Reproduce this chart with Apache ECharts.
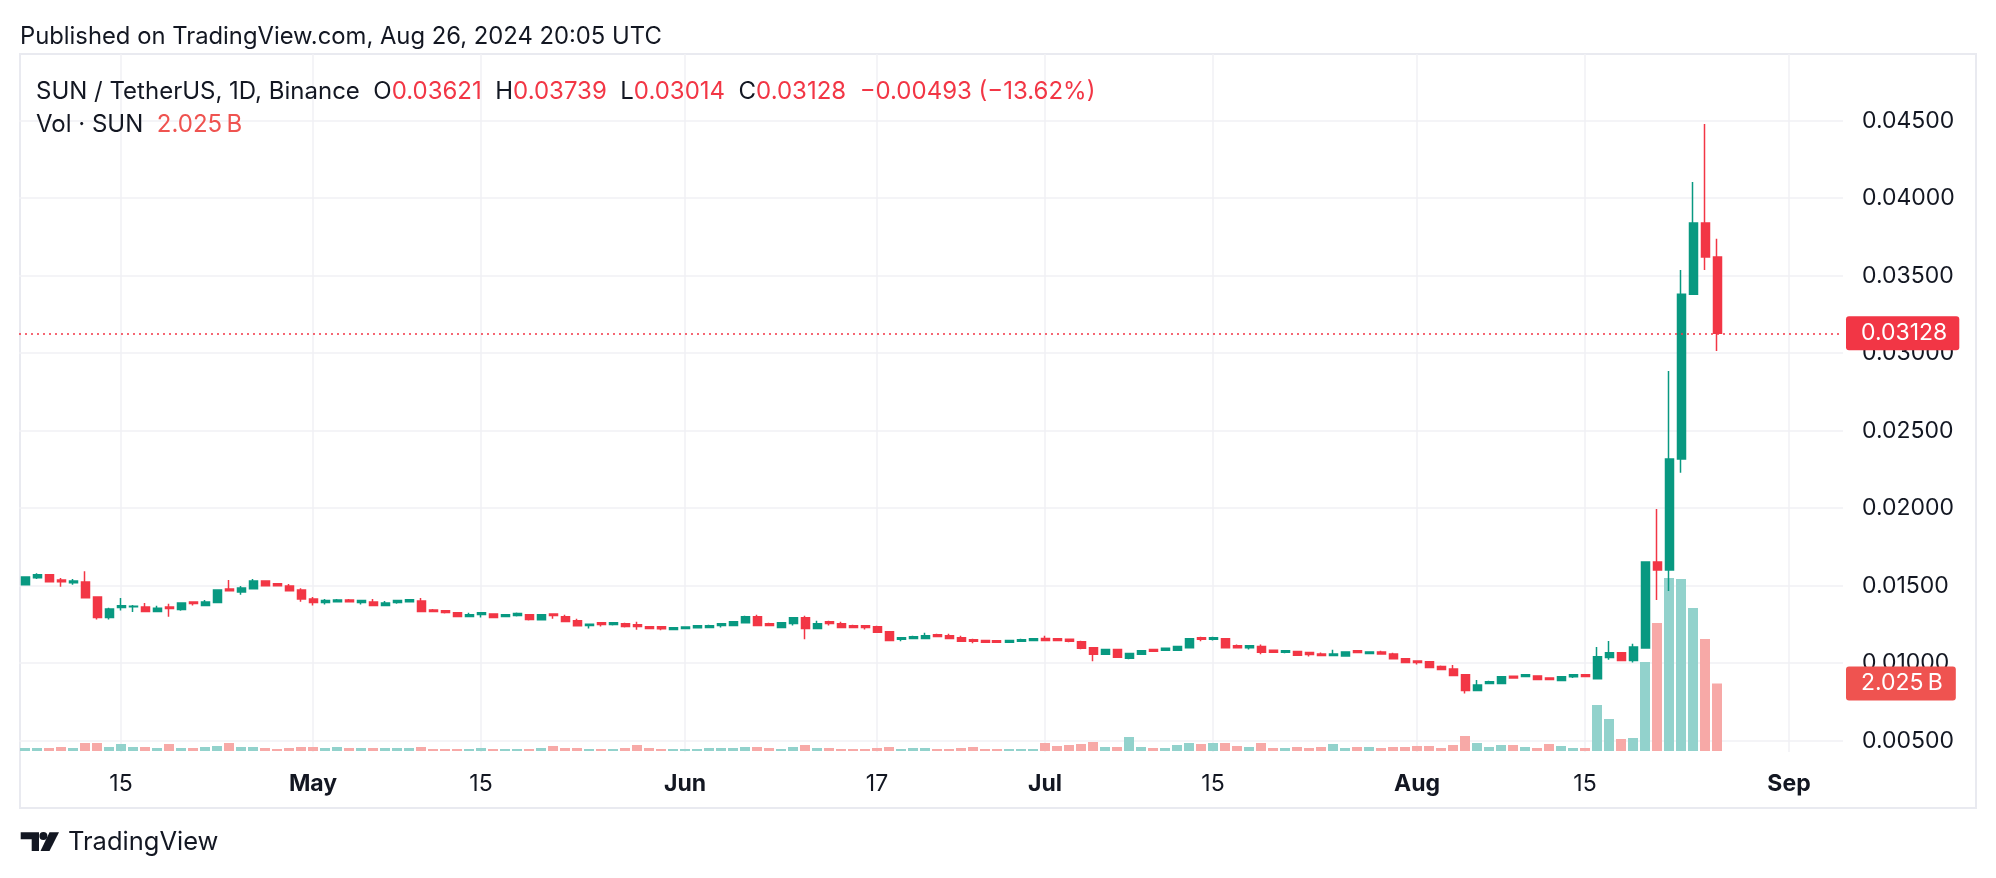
<!DOCTYPE html>
<html>
<head>
<meta charset="utf-8">
<script src="https://cdn.jsdelivr.net/npm/echarts/dist/echarts.min.js"></script>
<style>
html,body{margin:0;padding:0;background:#fff;}
#chart{width:1996px;height:878px;}
</style>
</head>
<body>
<div id="chart"></div>
<script>
// ---- data ----
const firstDate = '2024-04-07';
const totalDays = 152; // Apr 7 .. Sep 5 (empty future space on the right)

// rows: [open, high, low, close], one per day starting Apr 7, 2024
const candles = [
[0.01506,0.01560,0.01504,0.01556],[0.01551,0.01581,0.01543,0.01571],[0.01571,0.01575,0.01526,0.01526],[0.01536,0.01549,0.01494,0.01526],
[0.01519,0.01543,0.01506,0.01530],[0.01524,0.01594,0.01423,0.01423],[0.01427,0.01432,0.01282,0.01295],[0.01295,0.01357,0.01282,0.01350],
[0.01359,0.01421,0.01340,0.01370],[0.01364,0.01376,0.01331,0.01368],[0.01363,0.01389,0.01333,0.01333],[0.01333,0.01370,0.01333,0.01355],
[0.01363,0.01383,0.01299,0.01353],[0.01346,0.01389,0.01338,0.01389],[0.01395,0.01395,0.01372,0.01385],[0.01372,0.01408,0.01372,0.01395],
[0.01391,0.01472,0.01391,0.01472],[0.01479,0.01536,0.01468,0.01468],[0.01459,0.01498,0.01442,0.01485],[0.01481,0.01543,0.01481,0.01530],
[0.01530,0.01530,0.01500,0.01500],[0.01513,0.01517,0.01500,0.01500],[0.01498,0.01511,0.01468,0.01468],[0.01472,0.01483,0.01397,0.01415],
[0.01415,0.01427,0.01372,0.01391],[0.01391,0.01415,0.01378,0.01404],[0.01397,0.01415,0.01391,0.01408],[0.01408,0.01415,0.01397,0.01397],
[0.01391,0.01408,0.01378,0.01404],[0.01395,0.01415,0.01372,0.01372],[0.01372,0.01402,0.01372,0.01389],[0.01391,0.01408,0.01383,0.01404],
[0.01397,0.01415,0.01397,0.01410],[0.01402,0.01421,0.01333,0.01333],[0.01344,0.01350,0.01333,0.01333],[0.01338,0.01344,0.01321,0.01327],
[0.01325,0.01331,0.01301,0.01301],[0.01301,0.01325,0.01301,0.01312],[0.01314,0.01325,0.01295,0.01325],[0.01318,0.01318,0.01295,0.01295],
[0.01301,0.01318,0.01301,0.01312],[0.01308,0.01327,0.01301,0.01321],[0.01312,0.01312,0.01276,0.01282],[0.01280,0.01312,0.01276,0.01312],
[0.01318,0.01318,0.01286,0.01308],[0.01299,0.01312,0.01269,0.01269],[0.01274,0.01286,0.01237,0.01241],[0.01244,0.01252,0.01224,0.01252],
[0.01261,0.01261,0.01237,0.01250],[0.01250,0.01261,0.01244,0.01261],[0.01254,0.01261,0.01231,0.01237],[0.01248,0.01267,0.01216,0.01237],
[0.01235,0.01235,0.01224,0.01224],[0.01235,0.01235,0.01212,0.01222],[0.01218,0.01233,0.01218,0.01229],[0.01224,0.01233,0.01220,0.01233],
[0.01229,0.01241,0.01224,0.01241],[0.01231,0.01248,0.01231,0.01241],[0.01244,0.01254,0.01231,0.01254],[0.01244,0.01267,0.01244,0.01267],
[0.01261,0.01306,0.01256,0.01299],[0.01299,0.01312,0.01244,0.01244],[0.01254,0.01261,0.01244,0.01244],[0.01231,0.01261,0.01231,0.01261],
[0.01256,0.01293,0.01244,0.01293],[0.01293,0.01306,0.01154,0.01224],[0.01224,0.01274,0.01224,0.01254],[0.01267,0.01274,0.01244,0.01256],
[0.01254,0.01267,0.01231,0.01231],[0.01241,0.01248,0.01231,0.01231],[0.01241,0.01241,0.01218,0.01231],[0.01235,0.01241,0.01199,0.01199],
[0.01203,0.01203,0.01141,0.01147],[0.01154,0.01165,0.01141,0.01165],[0.01160,0.01177,0.01160,0.01171],[0.01160,0.01197,0.01160,0.01177],
[0.01184,0.01190,0.01173,0.01173],[0.01177,0.01190,0.01160,0.01160],[0.01165,0.01177,0.01141,0.01141],[0.01152,0.01158,0.01128,0.01141],
[0.01147,0.01152,0.01135,0.01135],[0.01145,0.01145,0.01135,0.01135],[0.01135,0.01152,0.01135,0.01147],[0.01141,0.01158,0.01141,0.01152],
[0.01147,0.01158,0.01141,0.01158],[0.01160,0.01177,0.01147,0.01147],[0.01158,0.01158,0.01141,0.01147],[0.01154,0.01158,0.01135,0.01141],
[0.01139,0.01145,0.01090,0.01096],[0.01100,0.01100,0.01013,0.01058],[0.01058,0.01088,0.01058,0.01088],[0.01088,0.01088,0.01038,0.01038],
[0.01032,0.01062,0.01026,0.01062],[0.01058,0.01081,0.01058,0.01081],[0.01088,0.01088,0.01077,0.01077],[0.01083,0.01100,0.01083,0.01096],
[0.01083,0.01107,0.01083,0.01107],[0.01100,0.01158,0.01100,0.01158],[0.01165,0.01171,0.01141,0.01154],[0.01154,0.01171,0.01147,0.01165],
[0.01158,0.01158,0.01100,0.01100],[0.01113,0.01120,0.01100,0.01100],[0.01100,0.01113,0.01088,0.01113],[0.01107,0.01120,0.01058,0.01070],
[0.01083,0.01083,0.01070,0.01070],[0.01070,0.01081,0.01064,0.01081],[0.01075,0.01081,0.01051,0.01051],[0.01069,0.01069,0.01043,0.01056],
[0.01060,0.01069,0.01050,0.01050],[0.01050,0.01086,0.01050,0.01060],[0.01047,0.01073,0.01047,0.01073],[0.01080,0.01080,0.01069,0.01069],
[0.01062,0.01073,0.01062,0.01073],[0.01073,0.01080,0.01056,0.01060],[0.01060,0.01067,0.01028,0.01028],[0.01028,0.01034,0.01004,0.01004],
[0.01015,0.01015,0.00991,0.01004],[0.01009,0.01009,0.00972,0.00972],[0.00978,0.00985,0.00959,0.00959],[0.00963,0.00989,0.00920,0.00920],
[0.00925,0.00925,0.00804,0.00824],[0.00824,0.00892,0.00824,0.00860],[0.00869,0.00886,0.00869,0.00880],[0.00869,0.00912,0.00869,0.00912],
[0.00916,0.00916,0.00899,0.00905],[0.00914,0.00925,0.00914,0.00925],[0.00918,0.00918,0.00895,0.00895],[0.00905,0.00905,0.00895,0.00895],
[0.00888,0.00912,0.00888,0.00912],[0.00912,0.00925,0.00905,0.00925],[0.00925,0.00931,0.00914,0.00914],[0.00899,0.01105,0.00899,0.01041],
[0.01037,0.01144,0.01022,0.01067],[0.01067,0.01067,0.01017,0.01017],[0.01017,0.01125,0.01004,0.01105],[0.01098,0.01658,0.01098,0.01653],
[0.01653,0.01995,0.01408,0.01601],[0.01601,0.02885,0.01466,0.02317],[0.02317,0.03537,0.02229,0.03380],[0.03380,0.04105,0.03376,0.03840],
[0.03840,0.04479,0.03537,0.03621],[0.03621,0.03739,0.03014,0.03128]
];

// daily volume, billions of SUN
const volumes = [
0.09,0.09,0.09,0.12,0.09,0.24,0.24,0.12,0.21,0.12,0.12,0.09,0.21,0.09,0.09,0.12,0.15,0.24,0.12,0.12,0.09,0.06,0.09,0.12,
0.12,0.09,0.12,0.09,0.09,0.09,0.09,0.09,0.09,0.12,0.06,0.06,0.06,0.06,0.09,0.06,0.06,0.06,0.06,0.09,0.15,0.09,0.09,0.06,
0.06,0.06,0.09,0.18,0.09,0.06,0.06,0.06,
0.06,0.09,0.09,0.09,0.12,0.12,0.09,0.06,0.12,0.18,0.09,0.09,0.06,0.06,0.06,0.09,0.12,0.06,0.09,0.09,0.06,0.06,0.09,0.12,
0.06,0.06,0.06,0.06,0.06,
0.24,0.15,0.18,0.21,0.27,0.12,0.12,0.42,0.12,0.09,0.09,0.18,0.24,0.21,0.24,0.24,0.15,0.12,0.24,0.09,0.09,0.12,0.09,0.12,
0.21,0.09,0.12,0.12,0.09,0.12,0.12,
0.15,0.15,0.09,0.18,0.45,0.24,0.12,0.18,0.18,0.12,0.09,0.21,0.15,0.09,0.09,1.38,0.96,0.36,0.39,2.67,3.84,5.19,5.16,4.29,
3.36,2.025
];

const tickDates  = ['2024-04-15','2024-05-01','2024-05-15','2024-06-01','2024-06-17','2024-07-01','2024-07-15','2024-08-01','2024-08-15','2024-09-01'];
const tickLabels = ['15','May','15','Jun','17','Jul','15','Aug','15','Sep'];

const priceMin = 0, priceMax = 0.05, priceStep = 0.005;
const volMax = 9; // billions

// ---- build ----
const dates = [];
{
  const d0 = new Date(firstDate + 'T00:00:00Z');
  for (let i = 0; i < totalDays; i++) {
    const d = new Date(d0.getTime() + i * 86400000);
    dates.push(d.toISOString().slice(0, 10));
  }
}
const UP = '#089981', DOWN = '#F23645';
const VUP = '#92D2CC', VDOWN = '#F7A9A7';
const TXT = '#131722', GRID = '#F0F1F4';
const FONT = 'Inter, "Noto Sans", sans-serif';

const kData = candles.map(r => [r[0], r[3], r[2], r[1]]);
const last = candles[candles.length - 1];
const prevClose = candles[candles.length - 2][3];
const lastVol = volumes[volumes.length - 1];
const chg = last[3] - prevClose;
const pct = chg / prevClose * 100;
const minus = s => s.replace('-', '\u2212');
const f5 = v => v.toFixed(5);

const isTick = (idx, val) => tickDates.indexOf(val) >= 0;

const chart = echarts.init(document.getElementById('chart'), null, {renderer: 'canvas'});

const option = {
  animation: false,
  backgroundColor: '#ffffff',
  grid: [
    {left: 19, top: 43.2, width: 1824, height: 775, outerBoundsMode: 'none', containLabel: false},
    {left: 19, top: 451, width: 1824, height: 300, outerBoundsMode: 'none', containLabel: false},
    {left: 25, top: 54, width: 1812, height: 698, outerBoundsMode: 'none', containLabel: false}
  ],
  xAxis: [
    {type: 'category', gridIndex: 0, data: dates, boundaryGap: true, show: false},
    {type: 'category', gridIndex: 1, data: dates, boundaryGap: true, show: false},
    {type: 'category', gridIndex: 2, data: dates, boundaryGap: false,
     axisLine: {show: false}, axisTick: {show: false},
     axisLabel: {
       interval: isTick, margin: 20, color: TXT,
       formatter: (val) => {
         const t = tickLabels[tickDates.indexOf(val)];
         return /^\d+$/.test(t) ? '{n|' + t + '}' : '{m|' + t + '}';
       },
       rich: {
         n: {fontFamily: FONT, fontSize: 23, color: TXT, lineHeight: 24},
         m: {fontFamily: FONT, fontSize: 23, fontWeight: 'bold', color: TXT, lineHeight: 24}
       }
     },
     splitLine: {show: true, interval: isTick, lineStyle: {color: GRID, width: 1.5}}
    }
  ],
  yAxis: [
    {type: 'value', gridIndex: 0, position: 'right', min: priceMin, max: priceMax, interval: priceStep,
     axisLine: {show: false}, axisTick: {show: false},
     axisLabel: {margin: 19, color: TXT, fontFamily: FONT, fontSize: 23, showMinLabel: false, showMaxLabel: false,
                 formatter: v => v.toFixed(5)},
     splitLine: {show: true, showMinLine: false, showMaxLine: false, lineStyle: {color: GRID, width: 1.5}}
    },
    {type: 'value', gridIndex: 1, min: 0, max: volMax, show: false, splitLine: {show: false}},
    {type: 'value', gridIndex: 2, show: false, splitLine: {show: false}}
  ],
  series: [
    {
      type: 'bar', name: 'Vol', xAxisIndex: 1, yAxisIndex: 1, data: volumes, barWidth: 10, z: 1,
      itemStyle: {color: p => candles[p.dataIndex][3] >= candles[p.dataIndex][0] ? VUP : VDOWN},
      markLine: {
        silent: true, symbol: ['none', 'none'], animation: false, precision: 4, z: 10,
        lineStyle: {color: 'rgba(0,0,0,0)', width: 0},
        data: [{yAxis: lastVol}],
        label: {show: true, position: 'end', distance: 3,
          formatter: () => lastVol.toFixed(3) + '\u2009B',
          color: '#ffffff', fontFamily: FONT, fontSize: 23, backgroundColor: '#EF5350',
          padding: [5, 13, 5, 15], borderRadius: 3, lineHeight: 24}
      }
    },
    {
      type: 'candlestick', name: 'SUN', xAxisIndex: 0, yAxisIndex: 0, data: kData, barWidth: 8.5, z: 3,
      itemStyle: {color: UP, color0: DOWN, borderColor: UP, borderColor0: DOWN, borderWidth: 1.5},
      markLine: {
        silent: true, symbol: ['none', 'none'], animation: false, precision: 6, z: 10,
        lineStyle: {color: DOWN, type: [2, 4], width: 1.5},
        data: [{yAxis: last[3]}],
        label: {show: true, position: 'end', distance: 3,
          formatter: () => f5(last[3]),
          color: '#ffffff', fontFamily: FONT, fontSize: 23, backgroundColor: DOWN,
          padding: [5, 12, 5, 15], borderRadius: 3, lineHeight: 24}
      }
    }
  ],
  graphic: [
    {type: 'rect', z: -10, silent: true,
     shape: {x: 20, y: 54, width: 1956, height: 754},
     style: {fill: 'none', stroke: '#E9EAF0', lineWidth: 2}},
    {type: 'text', x: 20, y: 36.5, z: 100, silent: true,
     style: {text: 'Published on TradingView.com, Aug 26, 2024 20:05 UTC', fill: TXT, font: '23.8px ' + FONT,
             verticalAlign: 'middle'}},
    {type: 'text', x: 36, y: 91.5, z: 100, silent: true,
     style: {
       text: '{k|SUN / TetherUS, 1D, Binance}  {k|O}{v|' + f5(last[0]) + '}  {k|H}{v|' + f5(last[1]) + '}  {k|L}{v|' + f5(last[2]) +
             '}  {k|C}{v|' + f5(last[3]) + '}  {v|' + minus(f5(chg)) + ' (' + minus(pct.toFixed(2)) + '%)}',
       font: '24px ' + FONT, fill: TXT, verticalAlign: 'middle',
       rich: {k: {fill: TXT, font: '24px ' + FONT}, v: {fill: DOWN, font: '24px ' + FONT}}
     }},
    {type: 'text', x: 36, y: 125, z: 100, silent: true,
     style: {
       text: '{k|Vol \u00b7 SUN}  {v|' + lastVol.toFixed(3) + '\u2009B}',
       font: '24px ' + FONT, fill: TXT, verticalAlign: 'middle',
       rich: {k: {fill: TXT, font: '24px ' + FONT}, v: {fill: '#EF5350', font: '24px ' + FONT}}
     }},
    {type: 'polygon', silent: true,
     shape: {points: [[20.7,832.3],[39,832.3],[39,851],[31.7,851],[31.7,839.3],[20.7,839.3]]}, style: {fill: TXT}},
    {type: 'circle', silent: true, shape: {cx: 43.4, cy: 836, r: 4}, style: {fill: TXT}},
    {type: 'polygon', silent: true,
     shape: {points: [[49.5,832.3],[59,832.3],[49.5,851],[40.5,851]]}, style: {fill: TXT}},
    {type: 'text', x: 68, y: 842, silent: true,
     style: {text: 'TradingView', fill: TXT, font: '25.5px ' + FONT, verticalAlign: 'middle'}}
  ]
};
chart.setOption(option);
</script>
</body>
</html>
